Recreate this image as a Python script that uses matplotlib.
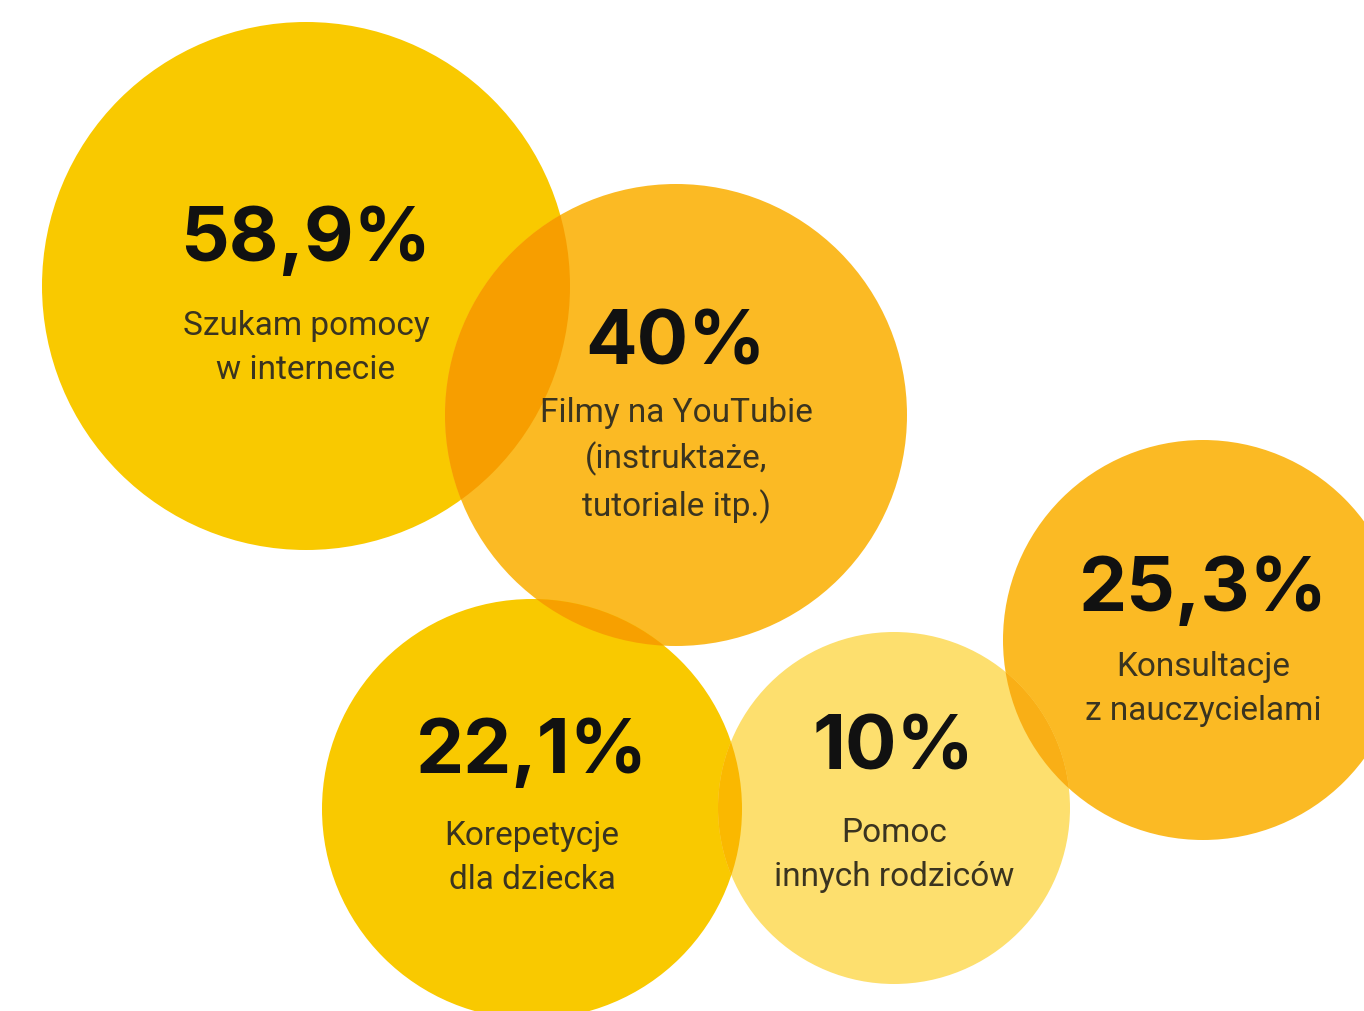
import matplotlib
matplotlib.use("Agg")
import matplotlib.pyplot as plt
from matplotlib.patches import Circle

# survey answers: share of parents choosing each kind of help
values = [58.9, 40.0, 25.3, 22.1, 10.0]
labels = [
    "Szukam pomocy\nw internecie",
    "Filmy na YouTubie\n(instruktaże,\ntutoriale itp.)",
    "Konsultacje\nz nauczycielami",
    "Korepetycje\ndla dziecka",
    "Pomoc\ninnych rodziców",
]

# bubble layout in pixel units (x, y from top-left, radius)
centers = [(306, 286), (676, 415), (1203, 640), (532, 809), (894, 808)]
radii = [264, 231, 200, 210, 176]
fills = ["#F9C900", "#FBBA24", "#FBBA24", "#F9C900", "#FDDF6E"]
pct_offsets = [-44, -70, -48, -55, -58]
label_offsets = [24, -18, 11, 11, 9]

# overlapping pairs and the colour of the shared lens
overlaps = [(0, 1, "#F79E00"), (3, 1, "#F7A000"), (3, 4, "#FAB800"), (2, 4, "#F9AF16")]

W, H = 1364, 1011
fig = plt.figure(figsize=(W / 100, H / 100), dpi=100)
ax = fig.add_axes([0, 0, 1, 1])
ax.set_xlim(0, W)
ax.set_ylim(H, 0)
ax.set_aspect("equal")
ax.axis("off")

patches = []
for (cx, cy), r, c in zip(centers, radii, fills):
    p = Circle((cx, cy), r, facecolor=c, edgecolor="none", zorder=1)
    ax.add_patch(p)
    patches.append(p)

for a, b, c in overlaps:
    lens = Circle(centers[b], radii[b], facecolor=c, edgecolor="none", zorder=2)
    ax.add_patch(lens)
    lens.set_clip_path(patches[a])

def fmt(v):
    s = f"{v:.1f}".replace(".", ",")
    if s.endswith(",0"):
        s = s[:-2]
    return s + "%"

for (cx, cy), v, lab, po, lo in zip(centers, values, labels, pct_offsets, label_offsets):
    ax.text(cx, cy + po, fmt(v), ha="center", va="center", fontsize=55,
            family="Inter", fontweight="bold", color="#111111", zorder=3)
    ax.text(cx, cy + lo, lab, ha="center", va="top", fontsize=24,
            family="Roboto", color="#3a3420", linespacing=1.48, zorder=3)

fig.savefig("out.png", dpi=100, facecolor="white")
